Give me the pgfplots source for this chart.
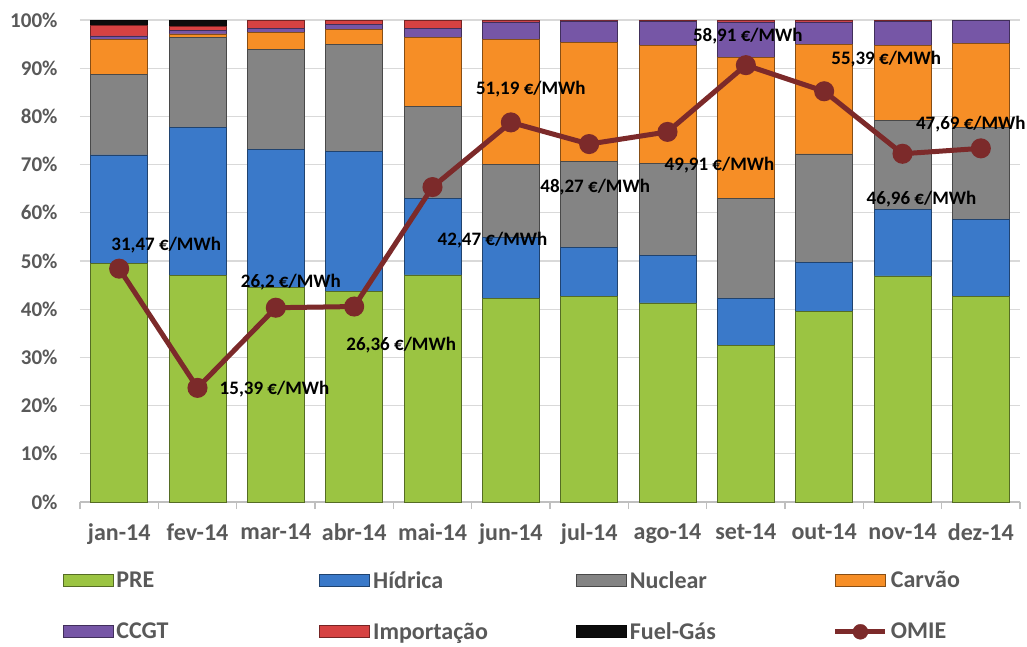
\documentclass[border=0pt]{standalone}
\usepackage{pgfplots}
\usepackage{pgfplotstable}
\pgfplotsset{compat=1.18}
\usepackage{fontspec}
\setmainfont{Carlito}
\definecolor{cpre}{RGB}{155,196,66}
\definecolor{chid}{RGB}{58,121,201}
\definecolor{cnuc}{RGB}{132,132,132}
\definecolor{ccar}{RGB}{246,142,38}
\definecolor{cccgt}{RGB}{118,86,166}
\definecolor{cimp}{RGB}{214,66,66}
\definecolor{cfuel}{RGB}{12,12,12}
\definecolor{comie}{RGB}{124,42,42}
\definecolor{ctick}{RGB}{89,89,89}
\definecolor{cgrid}{RGB}{217,217,217}
\pgfplotsset{
  mybar/.style={fill=#1, draw=#1!55!black, line width=0.8pt,
    legend image code/.code={\draw[##1] (0pt,-6pt) rectangle (50pt,6pt);}},
  omieleg/.style={legend image code/.code={\draw[comie, line width=5pt] (0pt,0pt) -- (50pt,0pt); \fill[comie] (25pt,0pt) circle (7.5pt);}},
}
\pgfplotstableread{
x pre hid nuc car ccgt imp fuel
0 49.4 22.6 16.7 7.3 0.7 2.1 1.2
1 47.0 30.7 18.6 0.8 0.8 0.8 1.3
2 44.6 28.6 20.6 3.6 0.9 1.7 0.0
3 43.6 29.2 22.2 3.0 1.0 1.0 0.0
4 47.1 15.9 19.0 14.3 2.0 1.7 0.0
5 42.3 12.5 15.3 25.8 3.7 0.4 0.0
6 42.6 10.2 17.8 24.7 4.5 0.2 0.0
7 41.3 9.9 19.1 24.5 4.9 0.3 0.0
8 32.4 9.9 20.6 29.4 7.3 0.4 0.0
9 39.5 10.2 22.5 22.7 4.7 0.4 0.0
10 46.9 13.8 18.4 15.7 4.9 0.3 0.0
11 42.7 16.0 19.0 17.5 4.8 0.0 0.0
}\mix
\pgfplotstableread{
x omie
0 31.47
1 15.39
2 26.2
3 26.36
4 42.47
5 51.19
6 48.27
7 49.91
8 58.91
9 55.39
10 46.96
11 47.69
}\omie
\newcommand{\lab}[1]{{\fontsize{19}{22}\selectfont\bfseries #1~€/MWh}}
\begin{document}
\begin{tikzpicture}
\useasboundingbox (-80pt,-144pt) rectangle (947pt,502pt);
\begin{axis}[
  scale only axis, width=940pt, height=482pt,
  at={(0pt,0pt)}, anchor=south west,
  ybar stacked, bar width=57pt,
  xmin=-0.5, xmax=11.5, ymin=0, ymax=100,
  enlargelimits=false,
  axis x line*=bottom, axis y line*=left,
  y axis line style={draw=none},
  x axis line style={-, draw=black!25, line width=1.2pt},
  ytick={0,10,...,100},
  yticklabels={0\%,10\%,20\%,30\%,40\%,50\%,60\%,70\%,80\%,90\%,100\%},
  xtick={0,...,11},
  xticklabels={jan-14,fev-14,mar-14,abr-14,mai-14,jun-14,jul-14,ago-14,set-14,out-14,nov-14,dez-14},
  minor xtick={-0.5,0.5,...,11.5},
  major tick length=0pt,
  minor tick length=7pt,
  xtick align=outside,
  minor tick style={draw=black!25, line width=1.2pt},
  ymajorgrids, grid style={cgrid, line width=1.3pt},
  yticklabel style={font=\fontsize{21}{24}\selectfont\bfseries, text=ctick, xshift=-19pt},
  xticklabel style={font=\fontsize{24}{28}\selectfont\bfseries, text=ctick, yshift=-18pt},
  legend columns=4,
  legend style={at={(rel axis cs:-0.022,-0.135)}, anchor=north west, draw=none, fill=none,
    font=\fontsize{24}{28}\selectfont\bfseries, text=ctick, row sep=29pt,
    /tikz/every odd column/.append style={column sep=1pt}},
  legend cell align=left,
]
\addplot[mybar=cpre] table[x=x,y=pre]{\mix};
\addlegendentry{\makebox[201pt][l]{PRE}}
\addplot[mybar=chid] table[x=x,y=hid]{\mix};
\addlegendentry{\makebox[201pt][l]{Hídrica}}
\addplot[mybar=cnuc] table[x=x,y=nuc]{\mix};
\addlegendentry{\makebox[201pt][l]{Nuclear}}
\addplot[mybar=ccar] table[x=x,y=car]{\mix};
\addlegendentry{\makebox[110pt][l]{Carvão}}
\addplot[mybar=cccgt] table[x=x,y=ccgt]{\mix};
\addlegendentry{\makebox[201pt][l]{CCGT}}
\addplot[mybar=cimp] table[x=x,y=imp]{\mix};
\addlegendentry{\makebox[201pt][l]{Importação}}
\addplot[mybar=cfuel] table[x=x,y=fuel]{\mix};
\addlegendentry{\makebox[201pt][l]{Fuel-Gás}}
\addlegendimage{omieleg}
\addlegendentry{\makebox[110pt][l]{OMIE}}
\end{axis}
\begin{axis}[
  scale only axis, width=940pt, height=482pt,
  at={(0pt,0pt)}, anchor=south west,
  xmin=-0.5, xmax=11.5, ymin=0, ymax=65,
  enlargelimits=false, hide axis, clip=false,
]
\addplot[comie, line width=5pt, mark=*, mark size=7.5pt, mark options={fill=comie, draw=comie}] table[x=x,y=omie]{\omie};
\node at (axis cs:0,31.47) [xshift=47pt, yshift=24pt] {\lab{31,47}};
\node at (axis cs:1,15.39) [xshift=77pt, yshift=-1pt] {\lab{15,39}};
\node at (axis cs:2,26.2) [xshift=15pt, yshift=26pt] {\lab{26,2}};
\node at (axis cs:3,26.36) [xshift=47pt, yshift=-39pt] {\lab{26,36}};
\node at (axis cs:4,42.47) [xshift=60pt, yshift=-53pt] {\lab{42,47}};
\node at (axis cs:5,51.19) [xshift=20pt, yshift=33pt] {\lab{51,19}};
\node at (axis cs:6,48.27) [xshift=6pt, yshift=-43pt] {\lab{48,27}};
\node at (axis cs:7,49.91) [xshift=52pt, yshift=-33pt] {\lab{49,91}};
\node at (axis cs:8,58.91) [xshift=2pt, yshift=29pt] {\lab{58,91}};
\node at (axis cs:9,55.39) [xshift=62pt, yshift=32pt] {\lab{55,39}};
\node at (axis cs:10,46.96) [xshift=19pt, yshift=-45pt] {\lab{46,96}};
\node at (axis cs:11,47.69) [xshift=-10pt, yshift=24pt] {\lab{47,69}};
\end{axis}
\end{tikzpicture}
\end{document}
